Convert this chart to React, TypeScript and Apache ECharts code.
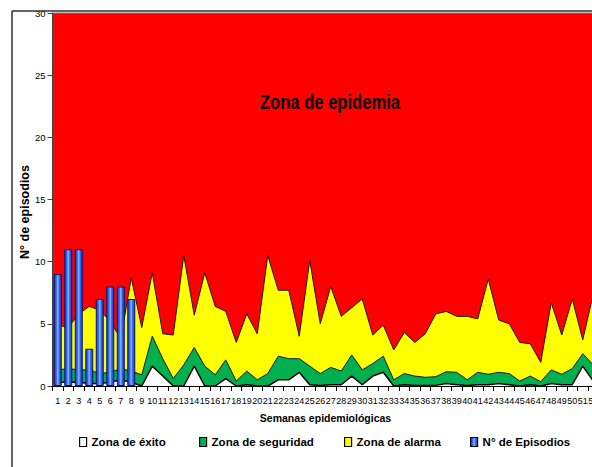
import React, { useEffect, useRef } from 'react';
import * as echarts from 'echarts';

const weeks = Array.from({ length: 52 }, (_, i) => String(i + 1));

// Upper limit of "Zona de éxito" (white)
const exito = [
  0.3, 0.3, 0.3, 0.2, 0.2, 0.3, 0.5, 0.3, 0, 1.6,
  0.8, 0, 0, 1.6, 0, 0, 0.6, 0, 0.1, 0,
  0, 0.5, 0.5, 1.1, 0.1, 0.05, 0.1, 0.1, 0.8, 0.1,
  0.8, 1.1, 0, 0.1, 0.05, 0.05, 0.05, 0.2, 0.1, 0.05,
  0.1, 0.1, 0.2, 0.1, 0, 0.1, 0, 0.2, 0.1, 0.1,
  1.6, 0.4,
];

// Upper limit of "Zona de seguridad" (green)
const seguridad = [
  1.3, 1.4, 1.3, 1.3, 1.0, 1.1, 1.4, 1.2, 0.9, 4.0,
  2.2, 0.6, 1.7, 3.1, 1.6, 0.9, 2.1, 0.4, 1.2, 0.5,
  1.0, 2.4, 2.2, 2.2, 1.6, 1.0, 1.5, 1.2, 2.5, 1.3,
  1.8, 2.4, 0.5, 1.0, 0.8, 0.7, 0.75, 1.15, 1.1, 0.5,
  1.1, 0.95, 1.1, 1.0, 0.4, 0.8, 0.35, 1.3, 0.95, 1.4,
  2.6, 1.7,
];

// Upper limit of "Zona de alarma" (yellow)
const alarma = [
  4.9, 4.7, 5.8, 6.4, 6.1, 5.2, 3.8, 8.7, 4.7, 9.1,
  4.2, 4.1, 10.5, 5.7, 9.1, 6.4, 6.0, 3.5, 5.8, 4.2,
  10.5, 7.7, 7.7, 4.0, 10.1, 5.0, 8.0, 5.6, 6.3, 7.0,
  4.1, 4.9, 2.9, 4.3, 3.5, 4.2, 5.8, 6.0, 5.6, 5.6,
  5.4, 8.6, 5.3, 5.0, 3.5, 3.4, 1.9, 6.7, 4.1, 7.0,
  3.7, 7.4,
];

const episodios = [9, 11, 11, 3, 7, 8, 8, 7];

const FONT = '"Liberation Sans", Arial, sans-serif';

export default function App() {
  const ref = useRef<HTMLDivElement>(null);
  useEffect(() => {
    const chart = echarts.init(ref.current!, null, { renderer: 'svg' });
    const legendBase = {
      top: 436,
      padding: 0,
      icon: 'rect',
      itemWidth: 7,
      itemHeight: 9,
      selectedMode: false,
      itemStyle: { borderColor: '#000', borderWidth: 1.2 },
      textStyle: { fontFamily: FONT, fontWeight: 'bold', fontSize: 11.5, color: '#000' },
    };
    chart.setOption({
      animation: false,
      backgroundColor: '#fff',
      grid: {
        left: 52.5,
        top: 13,
        width: 546,
        height: 373,
        outerBoundsMode: 'none',
        containLabel: false,
        show: true,
        backgroundColor: '#FF0000',
        borderColor: '#7f7f7f',
        borderWidth: 1,
      },
      legend: [
        { ...legendBase, left: 79, data: ['Zona de éxito'] },
        { ...legendBase, left: 199, data: ['Zona de seguridad'] },
        { ...legendBase, left: 344, data: ['Zona de alarma'] },
        { ...legendBase, left: 470, data: ['N° de Episodios'] },
      ],
      xAxis: {
        type: 'category',
        data: weeks,
        name: 'Semanas epidemiológicas',
        nameLocation: 'middle',
        nameGap: 26,
        nameTextStyle: { fontFamily: FONT, fontWeight: 'bold', fontSize: 10.5, color: '#000' },
        axisLine: { show: true, lineStyle: { color: '#000', width: 1 } },
        axisTick: { show: true, length: 5, lineStyle: { color: '#000' } },
        axisLabel: { interval: 0, margin: 10, fontFamily: FONT, fontSize: 9, color: '#000' },
        splitLine: { show: false },
      },
      yAxis: {
        type: 'value',
        min: 0,
        max: 30,
        interval: 5,
        axisLine: { show: true, lineStyle: { color: '#404040', width: 1 } },
        axisTick: { show: true, length: 5, lineStyle: { color: '#404040' } },
        axisLabel: { margin: 7, fontFamily: FONT, fontSize: 9.5, color: '#000' },
        splitLine: { show: false },
      },
      graphic: [
        { type: 'rect', shape: { x: 0, y: 0, width: 592, height: 11 }, style: { fill: '#fff' }, z: 100 },
        { type: 'line', shape: { x1: 12, y1: 11, x2: 592, y2: 11 }, style: { stroke: '#303030', lineWidth: 1.5 }, z: 101 },
        { type: 'line', shape: { x1: 12, y1: 11, x2: 12, y2: 467 }, style: { stroke: '#303030', lineWidth: 1.5 }, z: 101 },
        {
          type: 'text',
          x: 330,
          y: 102,
          scaleX: 0.83,
          z: 50,
          style: {
            text: 'Zona de epidemia',
            fontFamily: FONT,
            fontWeight: 'bold',
            fontSize: 20,
            fill: '#000',
            textAlign: 'center',
            textVerticalAlign: 'middle',
          },
        },
        {
          type: 'text',
          x: 25,
          y: 212,
          rotation: Math.PI / 2,
          z: 50,
          style: {
            text: 'N° de episodios',
            fontFamily: FONT,
            fontWeight: 'bold',
            fontSize: 12.5,
            fill: '#000',
            textAlign: 'center',
            textVerticalAlign: 'middle',
          },
        },
      ],
      series: [
        {
          name: 'Zona de alarma',
          type: 'line',
          data: alarma,
          symbol: 'none',
          z: 2,
          itemStyle: { color: '#FFFF00' },
          lineStyle: { color: '#1a1a1a', width: 1 },
          areaStyle: { color: '#FFFF00', opacity: 1 },
        },
        {
          name: 'Zona de seguridad',
          type: 'line',
          data: seguridad,
          symbol: 'none',
          z: 3,
          itemStyle: { color: '#00B050' },
          lineStyle: { color: '#1a1a1a', width: 1 },
          areaStyle: { color: '#00B050', opacity: 1 },
        },
        {
          name: 'Zona de éxito',
          type: 'line',
          data: exito,
          symbol: 'none',
          z: 4,
          itemStyle: { color: '#FFFFFF' },
          lineStyle: { color: '#000', width: 1.5 },
          areaStyle: { color: '#FFFFFF', opacity: 1 },
        },
        {
          name: 'N° de Episodios',
          type: 'bar',
          data: episodios,
          barWidth: 8,
          z: 5,
          itemStyle: {
            color: {
              type: 'linear',
              x: 0, y: 0, x2: 1, y2: 0,
              colorStops: [
                { offset: 0, color: '#1b3bc4' },
                { offset: 0.3, color: '#3468ee' },
                { offset: 0.5, color: '#8cbcff' },
                { offset: 0.7, color: '#3468ee' },
                { offset: 1, color: '#1b3bc4' },
              ],
            },
            borderColor: '#0d1670',
            borderWidth: 1,
          },
        },
      ],
    });
    return () => chart.dispose();
  }, []);
  return (
    <div
      ref={ref}
      style={{ position: 'absolute', left: 0, top: 0, width: 592, height: 467, background: '#fff' }}
    />
  );
}
